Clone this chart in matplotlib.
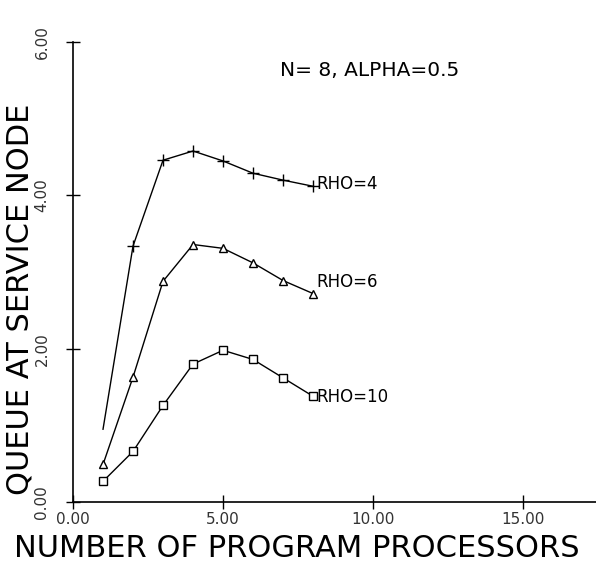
import matplotlib.pyplot as plt
import numpy as np

# processors on the x axis, queue length for each RHO
processors = [1, 2, 3, 4, 5, 6, 7, 8]
rho4 = [0.95, 3.34, 4.46, 4.58, 4.45, 4.29, 4.20, 4.12]
rho6 = [0.49, 1.63, 2.88, 3.36, 3.31, 3.12, 2.89, 2.72]
rho10 = [0.27, 0.66, 1.26, 1.80, 1.98, 1.86, 1.62, 1.38]
curve_labels = ["RHO=4", "RHO=6", "RHO=10"]
xticks = [0, 5, 10, 15]
yticks = [0, 2, 4, 6]

fig = plt.figure(figsize=(5.96, 5.67), dpi=100)
ax = fig.add_axes([0.1225, 0.1146, 0.8775, 0.811])

ax.plot(processors, rho4, color='k', lw=1.0, marker='+', ms=9, mew=1.0,
        markevery=list(range(1, 8)))
ax.plot(processors, rho6, color='k', lw=1.0, marker='^', ms=6, mew=1.0,
        mfc='white')
ax.plot(processors, rho10, color='k', lw=1.0, marker='s', ms=6, mew=1.0,
        mfc='white')

tfont = dict(family='DejaVu Sans', color='k')
# labels sit just right of the last point of each curve
label_y = [4.15, 2.87, 1.37]
for yy, lab in zip(label_y, curve_labels):
    ax.text(8.1, yy, lab, fontsize=12, ha='left', va='center', **tfont)

ax.text(9.9, 5.63, "N= 8, ALPHA=0.5", fontsize=14.5, ha='center',
        va='center', **tfont)

ax.set_xlim(0, 17.43)
ax.set_ylim(0, 6)
ax.set_xticks(xticks)
ax.set_xticklabels(["%.2f" % v for v in xticks], fontsize=11, color='#333333')
ax.set_yticks(yticks)
ax.set_yticklabels(["%.2f" % v for v in yticks], fontsize=11, color='#333333',
                   rotation=90, va='center')
ax.tick_params(direction='inout', length=10, width=1.0)
ax.tick_params(axis='x', pad=2)
ax.tick_params(axis='y', pad=12)
for s in ['top', 'right']:
    ax.spines[s].set_visible(False)
for s in ['left', 'bottom']:
    ax.spines[s].set_linewidth(1.2)

ax.set_xlabel("NUMBER OF PROGRAM PROCESSORS", fontsize=22, **tfont)
ax.set_ylabel("QUEUE AT SERVICE NODE", fontsize=22, **tfont)
ax.xaxis.set_label_coords(0.428, -0.1)
ax.yaxis.set_label_coords(-0.101, 0.44)
ax.xaxis.label.set_va('center')
ax.yaxis.label.set_va('center')

fig.savefig("out.png", dpi=100)
